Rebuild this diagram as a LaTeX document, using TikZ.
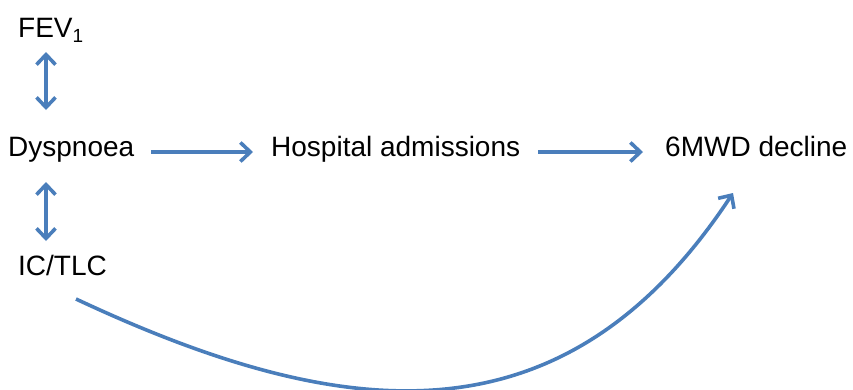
\documentclass[tikz,border=0pt]{standalone}
\usepackage{fontspec}
\setmainfont{Liberation Sans}
\usetikzlibrary{arrows.meta}
\definecolor{linkblue}{HTML}{4A7EBB}
\begin{document}
\begin{tikzpicture}[x=1pt,y=-1pt,
  term/.style={anchor=base west, inner sep=0pt, font=\fontsize{28}{32}\selectfont},
  barb/.tip={Straight Barb[length=10pt,width=19pt]},
  link/.style={draw=linkblue, line width=3.6pt, -barb},
  both/.style={draw=linkblue, line width=3.6pt, barb-barb},
  ]
\useasboundingbox (0,0) rectangle (853,389);

% variables
\node[term] (fev)  at (18,37)  {FEV\raisebox{-5pt}{\fontsize{19}{19}\selectfont 1}};
\node[term] (dys)  at (8,156)  {Dyspnoea};
\node[term] (ic)   at (18,275) {IC/TLC};
\node[term] (hosp) at (271,156) {Hospital admissions};
\node[term] (mwd)  at (665,156) {6MWD decline};

% two-way associations with dyspnoea
\draw[both] ([shift={(28,15)}]fev.base west) -- ([shift={(38,-46)}]dys.base west);
\draw[both] ([shift={(38,26)}]dys.base west) -- ([shift={(28,-34)}]ic.base west);

% directed effects
\draw[link] ([shift={(17,-4)}]dys.base east) -- ([shift={(-18,-4)}]hosp.base west);
\draw[link] ([shift={(18,-4)}]hosp.base east) -- ([shift={(-22,-4)}]mwd.base west);
\draw[link] ([shift={(58,24)}]ic.base west)
  .. controls (345,425) and (565,448) .. ([shift={(68,37)}]mwd.base west);
\end{tikzpicture}
\end{document}
